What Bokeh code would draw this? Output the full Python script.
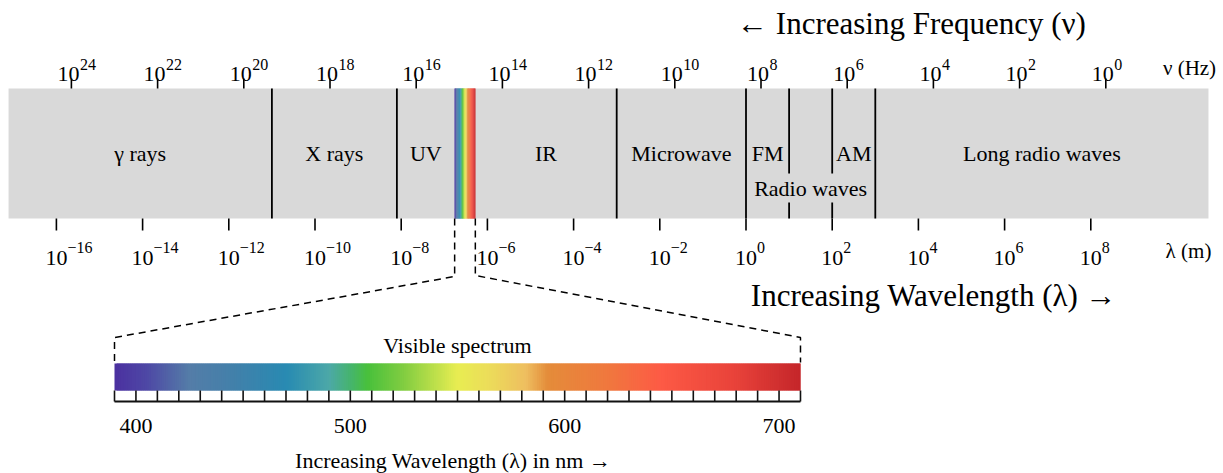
import numpy as np
from bokeh.plotting import figure
from bokeh.models import Range1d
from bokeh.core.properties import value
from bokeh.embed import file_html
from bokeh.resources import INLINE

# ---------------- data ----------------
# frequency ticks (log10 Hz) and wavelength ticks (log10 m)
nu_exps = [24, 22, 20, 18, 16, 14, 12, 10, 8, 6, 4, 2, 0]
lam_exps = [-16, -14, -12, -10, -8, -6, -4, -2, 0, 2, 4, 6, 8]

# band regions in log10(wavelength / m)
band_names = ["γ rays", "X rays", "UV", "IR", "Microwave", "FM", "AM", "Long radio waves"]
band_lo = [-17.11, -11.0, -8.1, -6.28, -3.0, 0.0, 2.0, 3.0]
band_hi = [-11.0, -8.1, -6.76, -3.0, 0.0, 1.0, 3.0, 10.73]
full_bounds = [-11.0, -8.1, -3.0, 0.0, 3.0]
split_bounds = [1.0, 2.0]
radio_group = ("Radio waves", 0.0, 3.0)
visible_lo, visible_hi = -6.76, -6.28

# visible spectrum (nm)
vis_nm_min, vis_nm_max = 390, 710
vis_ticks = list(range(390, 711, 10))
vis_labels = [400, 500, 600, 700]
stop_nm = [390, 405, 425, 445, 470, 490, 500, 508, 525, 550, 565, 582, 592, 620, 645, 680, 710]
stop_rgb = [(75, 48, 160), (78, 72, 165), (84, 125, 168), (67, 128, 170), (40, 138, 178),
            (76, 168, 168), (70, 180, 110), (72, 192, 60), (130, 205, 65), (232, 237, 82),
            (236, 220, 90), (238, 190, 96), (228, 140, 58), (240, 120, 62), (253, 90, 69),
            (232, 66, 58), (196, 38, 42)]

# ---------------- layout ----------------
W, H = 1223, 473
PX_PER_DEC = 43.1
LAM0_PX = 745.5
LAM_START = -LAM0_PX / PX_PER_DEC
LAM_END = (W - LAM0_PX) / PX_PER_DEC
NU_K = 8.348                      # log10(nu) = NU_K - log10(lambda) on this drawing
NM_PX_PER = 2.1437
NM_START = vis_nm_min - 114 / NM_PX_PER
NM_END = NM_START + W / NM_PX_PER

FONT = "Liberation Serif"
BAND_TOP, BAND_BOT = 88, 218

def nm_to_lam(nm):
    frac = (nm - NM_START) / (NM_END - NM_START)
    return LAM_START + frac * (LAM_END - LAM_START)

def px_to_lam(px):
    return (px - LAM0_PX) / PX_PER_DEC

p = figure(width=W, height=H, x_range=Range1d(LAM_START, LAM_END), y_range=Range1d(H, 0),
           output_backend="svg", toolbar_location=None, x_axis_type=None, y_axis_type=None,
           min_border=0)
p.extra_x_ranges = {"freq": Range1d(NU_K - LAM_START, NU_K - LAM_END),
                    "nm": Range1d(NM_START, NM_END)}
p.outline_line_color = None
p.background_fill_color = "white"
p.border_fill_color = "white"
p.grid.visible = False

# grey band
p.quad(left=[band_lo[0]], right=[band_hi[-1]], top=[BAND_TOP], bottom=[BAND_BOT],
       fill_color="#d9d9d9", line_color=None)

# colour gradient slices (overlapping to avoid seams)
step = 1.0
edges = np.arange(vis_nm_min, vis_nm_max + 0.01, step)
lefts = edges[:-1]
rights = np.minimum(edges[1:] + step, vis_nm_max)
centers = lefts + step / 2
rgb = np.array(stop_rgb, dtype=float)
cols = ["#%02x%02x%02x" % tuple(int(round(np.interp(c, stop_nm, rgb[:, k]))) for k in range(3))
        for c in centers]

span = vis_nm_max - vis_nm_min
p.quad(left=list(visible_lo + (lefts - vis_nm_min) / span * (visible_hi - visible_lo)),
       right=list(visible_lo + (rights - vis_nm_min) / span * (visible_hi - visible_lo)),
       top=BAND_TOP, bottom=BAND_BOT, fill_color=cols, line_color=None)

p.quad(left=list(lefts), right=list(rights), top=363, bottom=390,
       fill_color=cols, line_color=None, x_range_name="nm")

# region boundaries
p.segment(x0=full_bounds, x1=full_bounds, y0=BAND_TOP, y1=BAND_BOT, line_color="black", line_width=1.8)
p.segment(x0=split_bounds, x1=split_bounds, y0=BAND_TOP, y1=173, line_color="black", line_width=1.8)
p.segment(x0=split_bounds, x1=split_bounds, y0=202, y1=BAND_BOT, line_color="black", line_width=1.8)

# band labels
mids = [(a + b) / 2 for a, b in zip(band_lo, band_hi)]
p.text(x=mids, y=[153] * len(mids), text=band_names, text_font=value(FONT), text_font_size="22px",
       text_align="center", text_baseline="middle", text_color="black")
p.text(x=[(radio_group[1] + radio_group[2]) / 2], y=[188], text=[radio_group[0]], text_font=value(FONT),
       text_font_size="22px", text_align="center", text_baseline="middle", text_color="black")

# frequency ticks (top)
def sup(e):
    return str(e).replace("-", "\u2212")

p.segment(x0=nu_exps, x1=nu_exps, y0=78, y1=BAND_TOP, line_color="black", line_width=1.6,
          x_range_name="freq")
p.text(x=nu_exps, y=[73] * len(nu_exps), text=["10"] * len(nu_exps), x_offset=-3,
       text_font=value(FONT), text_font_size="22px", text_align="center",
       text_baseline="alphabetic", x_range_name="freq")
p.text(x=nu_exps, y=[64] * len(nu_exps), text=[sup(e) for e in nu_exps], x_offset=8.5,
       text_font=value(FONT), text_font_size="16px", text_align="left",
       text_baseline="alphabetic", x_range_name="freq")

# wavelength ticks (bottom)
p.segment(x0=lam_exps, x1=lam_exps, y0=BAND_BOT, y1=230, line_color="black", line_width=1.6)
p.text(x=lam_exps, y=[257] * len(lam_exps), text=["10"] * len(lam_exps), x_offset=0,
       text_font=value(FONT), text_font_size="22px", text_align="center",
       text_baseline="alphabetic")
p.text(x=lam_exps, y=[247] * len(lam_exps), text=[sup(e) for e in lam_exps], x_offset=11,
       text_font=value(FONT), text_font_size="16px", text_align="left",
       text_baseline="alphabetic")

# axis names and headings
p.text(x=[px_to_lam(1189)], y=[67], text=["ν (Hz)"], text_font=value(FONT),
       text_font_size="21px", text_align="center", text_baseline="middle")
p.text(x=[px_to_lam(1188)], y=[250], text=["λ (m)"], text_font=value(FONT),
       text_font_size="21px", text_align="center", text_baseline="middle")
p.text(x=[px_to_lam(911)], y=[23], text=["← Increasing Frequency (ν)"],
       text_font=value(FONT), text_font_size="31px", text_align="center", text_baseline="middle")
p.text(x=[px_to_lam(933.5)], y=[295], text=["Increasing Wavelength (λ) →"],
       text_font=value(FONT), text_font_size="31px", text_align="center", text_baseline="middle")

# dashed connectors
p.line(x=[visible_lo, visible_lo, nm_to_lam(vis_nm_min), nm_to_lam(vis_nm_min)],
       y=[BAND_BOT, 276, 337, 362], line_color="black", line_width=1.5, line_dash="7 5")
p.line(x=[visible_hi, visible_hi, nm_to_lam(vis_nm_max), nm_to_lam(vis_nm_max)],
       y=[BAND_BOT, 275, 337, 362], line_color="black", line_width=1.5, line_dash="7 5")

# visible spectrum scale
p.segment(x0=vis_ticks, x1=vis_ticks, y0=390, y1=401, line_color="#111111", line_width=1.6,
          x_range_name="nm")
p.segment(x0=[vis_nm_min], x1=[vis_nm_max], y0=[401], y1=[401], line_color="#111111",
          line_width=2.2, x_range_name="nm")
p.text(x=vis_labels, y=[425] * len(vis_labels), text=[str(v) for v in vis_labels],
       text_font=value(FONT), text_font_size="22px", text_align="center", text_baseline="middle",
       x_range_name="nm")
p.text(x=[(vis_nm_min + vis_nm_max) / 2], y=[345], text=["Visible spectrum"], text_font=value(FONT),
       text_font_size="22px", text_align="center", text_baseline="middle", x_range_name="nm")
p.text(x=[(vis_nm_min + vis_nm_max) / 2 - 2], y=[460], text=["Increasing Wavelength (λ) in nm →"],
       text_font=value(FONT), text_font_size="22px", text_align="center", text_baseline="middle",
       x_range_name="nm")

open("out.html", "w").write(file_html(p, INLINE))
